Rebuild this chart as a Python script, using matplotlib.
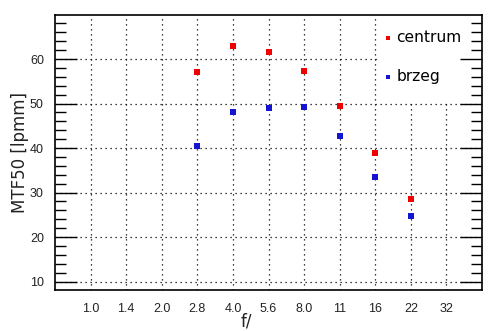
import matplotlib
matplotlib.use('Agg')
import matplotlib.pyplot as plt
from matplotlib.patches import Rectangle
from matplotlib.ticker import MultipleLocator

f_stops = ['1.0', '1.4', '2.0', '2.8', '4.0', '5.6', '8.0', '11', '16', '22', '32']
measured = ['2.8', '4.0', '5.6', '8.0', '11', '16', '22']
centrum = [57.1, 62.9, 61.6, 57.3, 49.5, 38.9, 28.6]
brzeg = [40.4, 48.0, 49.1, 49.3, 42.7, 33.4, 24.7]

pos = [f_stops.index(f) for f in measured]

fig = plt.figure(figsize=(4.94, 3.31), dpi=100)
ax = fig.add_axes([55 / 494, 1 - 290 / 331, 427 / 494, 275 / 331])

ax.scatter(pos, centrum, marker='s', s=20, color='#f00000', linewidths=0,
           label='centrum', zorder=3)
ax.scatter(pos, brzeg, marker='s', s=20, color='#1414d2', linewidths=0,
           label='brzeg', zorder=3)

ax.set_xlim(-1, len(f_stops))
ax.set_ylim(8.1, 69.9)
ax.set_xticks(range(len(f_stops)))
ax.set_xticklabels(f_stops)
ax.yaxis.set_major_locator(MultipleLocator(10))
ax.yaxis.set_minor_locator(MultipleLocator(2))

# dotted grid drawn as plain lines so the legend mask can sit above it
# while the axis ticks stay on top
grid_style = dict(color='black', linestyle=(0, (1, 3)), linewidth=0.9, zorder=1)
for x in ax.get_xticks():
    ax.axvline(x, **grid_style)
for y in ax.get_yticks():
    if 8.1 < y < 69.9:
        ax.axhline(y, **grid_style)

# white area behind the legend
ax.add_patch(Rectangle((322 / 427, 188 / 275), 105 / 427, 87 / 275,
                       transform=ax.transAxes, facecolor='white',
                       edgecolor='none', zorder=1.4))

ax.tick_params(axis='x', length=0, pad=9, labelsize=9)
ax.tick_params(axis='y', which='major', direction='in', length=16, width=1,
               left=True, right=True, pad=8, labelsize=9)
ax.tick_params(axis='y', which='minor', direction='in', length=8, width=1,
               left=True, right=True)
for lab in ax.get_xticklabels() + ax.get_yticklabels():
    lab.set_family('Liberation Sans')
    lab.set_color('#222222')
for sp in ax.spines.values():
    sp.set_linewidth(1.2)

ax.set_ylabel('MTF50 [lpmm]', fontsize=12, color='#222222')
ax.yaxis.set_label_coords(-26 / 427, 0.5)
ax.set_xlabel('f/', fontsize=12, color='#222222')
ax.xaxis.set_label_coords(191 / 427, -23 / 275)
ax.xaxis.label.set_va('top')

ax.legend(loc='upper left', frameon=False, fontsize=11.2, markerscale=0.7,
          handletextpad=0.3, handlelength=0.5, labelspacing=1.55,
          borderpad=0, borderaxespad=0,
          bbox_to_anchor=(329 / 427, 260 / 275))

fig.savefig('out.png', dpi=100)
